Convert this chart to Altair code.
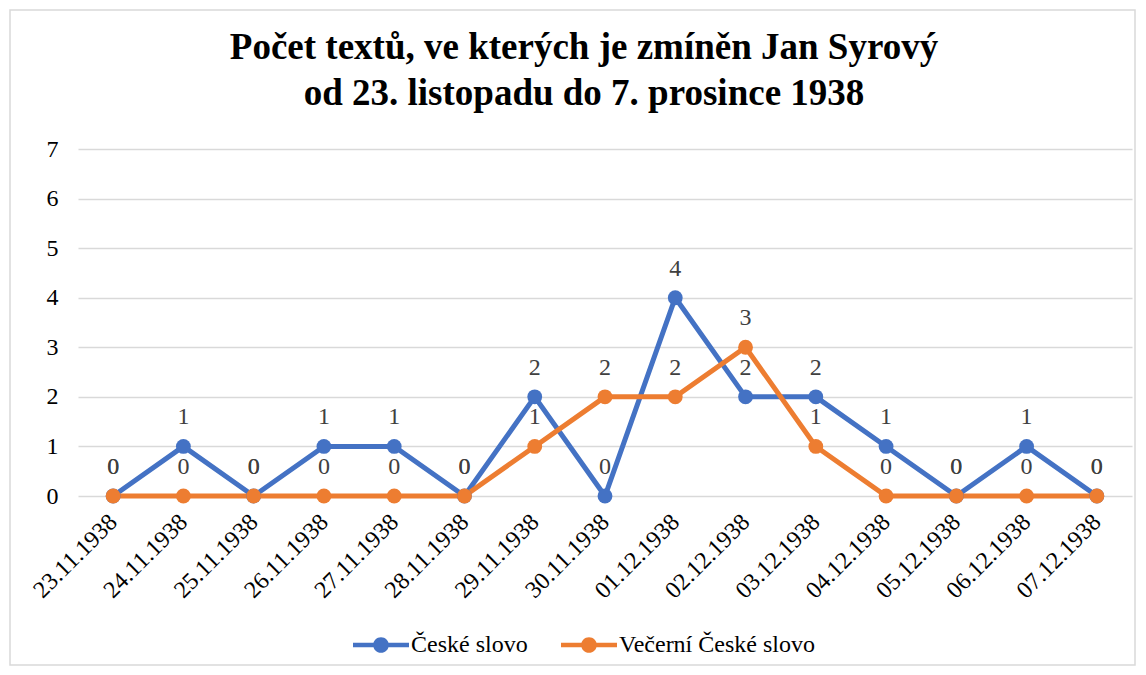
import altair as alt
import pandas as pd

dates = ["23.11.1938", "24.11.1938", "25.11.1938", "26.11.1938", "27.11.1938",
         "28.11.1938", "29.11.1938", "30.11.1938", "01.12.1938", "02.12.1938",
         "03.12.1938", "04.12.1938", "05.12.1938", "06.12.1938", "07.12.1938"]
ceske_slovo = [0, 1, 0, 1, 1, 0, 2, 0, 4, 2, 2, 1, 0, 1, 0]
vecerni = [0, 0, 0, 0, 0, 0, 1, 2, 2, 3, 1, 0, 0, 0, 0]
series_names = ["České slovo", "Večerní České slovo"]
colors = ["#4472C4", "#ED7D31"]

rows = []
for i, d in enumerate(dates):
    rows.append({"date": d, "series": series_names[0], "value": ceske_slovo[i], "order": 0})
for i, d in enumerate(dates):
    rows.append({"date": d, "series": series_names[1], "value": vecerni[i], "order": 1})
df = pd.DataFrame(rows)

FONT = "Liberation Serif"

x = alt.X("date:O", sort=dates, title=None,
          scale=alt.Scale(type="point", padding=0.5),
          axis=alt.Axis(labelAngle=-45, labelFontSize=24, labelColor="#000000",
                        labelFont=FONT, ticks=False, domain=False, labelPadding=22,
                        labelAlign="right", labelBaseline="middle"))
y = alt.Y("value:Q", title=None,
          scale=alt.Scale(domain=[0, 7], nice=False),
          axis=alt.Axis(values=[0, 1, 2, 3, 4, 5, 6, 7], labelFontSize=24,
                        labelColor="#000000", labelFont=FONT, ticks=False,
                        domain=False, labelPadding=20, gridColor="#d9d9d9",
                        gridWidth=1.5))

legend_shape = ("M-1,-0.08 L-0.25,-0.08 L-0.25,0.08 L-1,0.08 Z "
                "M0.25,-0.08 L1,-0.08 L1,0.08 L0.25,0.08 Z "
                "M-0.28,0 A0.28,0.28 0 1,1 0.28,0 A0.28,0.28 0 1,1 -0.28,0 Z")

color = alt.Color("series:N", scale=alt.Scale(domain=series_names, range=colors),
                  title=None,
                  legend=alt.Legend(orient="none", direction="horizontal",
                                    legendX=275, legendY=468,
                                    symbolType=legend_shape, symbolSize=3136,
                                    symbolStrokeWidth=0,
                                    labelFont=FONT, labelLimit=400,
                                    labelFontSize=24, labelColor="#000000",
                                    labelOffset=2, columnPadding=33,
                                    symbolOpacity=1))

base = alt.Chart(df)

lines = base.mark_line(strokeWidth=5).encode(
    x=x, y=y, color=color, detail="series:N",
)
points = base.mark_point(filled=True, size=220, opacity=1).encode(
    x=x, y=y, color=color, order="order:Q",
)
labels = base.mark_text(fontSize=24, font=FONT, color="#404040", dy=-22,
                        baseline="alphabetic").encode(
    x=x, y=y, text="value:Q",
)

frame = alt.Chart(alt.Data(values=[{}])).mark_rect(
    fill=None, stroke="#d9d9d9", strokeWidth=1.5, clip=False
).encode(
    x=alt.value(-68), x2=alt.value(1057), y=alt.value(-139), y2=alt.value(516)
)

chart = alt.layer(frame, lines, points, labels).properties(
    width=1054, height=347,
    title=alt.Title(["Počet textů, ve kterých je zmíněn Jan Syrový",
                     "od 23. listopadu do 7. prosince 1938"],
                    font=FONT, fontSize=37, fontWeight="bold", color="#000000",
                    anchor="middle", frame="group", dx=-21, offset=-104, lineHeight=46),
    autosize=alt.AutoSizeParams(type="none"),
    padding={"left": 70, "top": 141, "right": 6, "bottom": 179},
).configure_view(stroke=None)

chart.save("out.html", embed_options={"renderer": "svg", "actions": False})
